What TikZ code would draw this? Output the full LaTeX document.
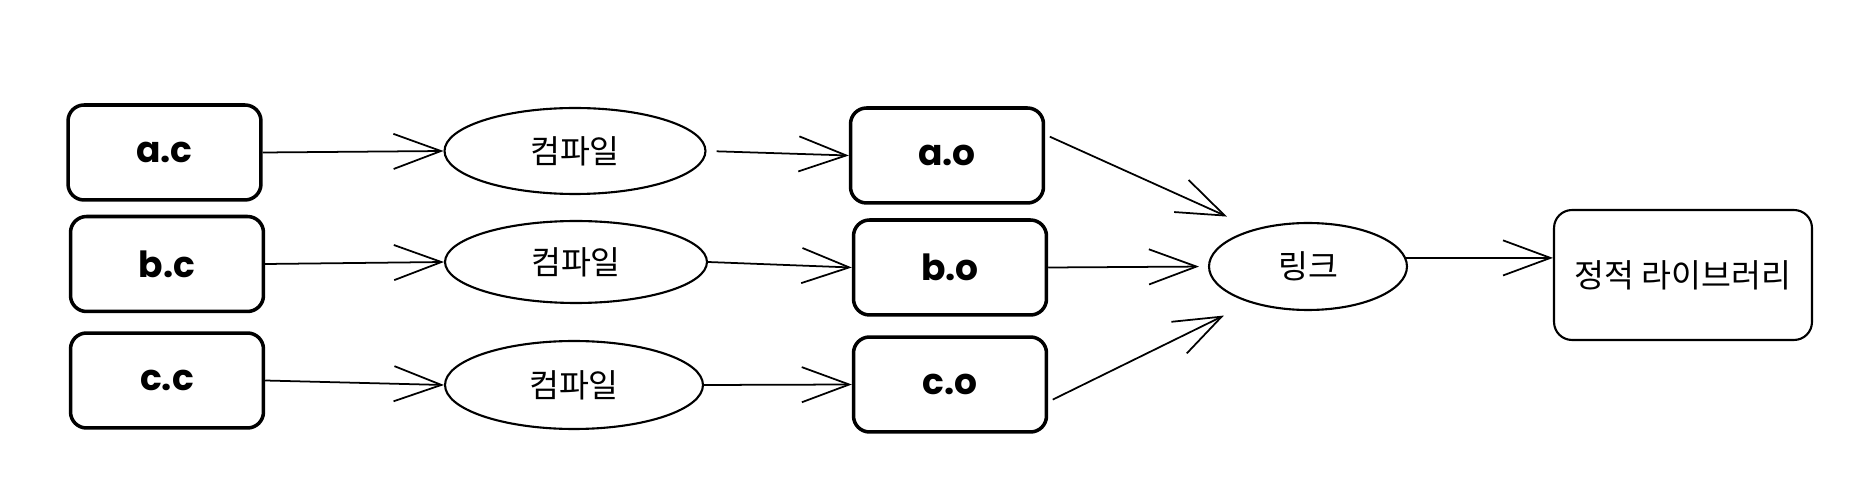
\documentclass[tikz,border=0pt]{standalone}
\usepackage{fontspec}
\setmainfont{Noto Sans CJK KR}
\newfontfamily\namefont{Poppins}
\usetikzlibrary{arrows.meta,shapes.geometric}

\begin{document}
\begin{tikzpicture}[x=0.02cm,y=-0.02cm,
    srcbox/.style={draw, line width=2pt, rounded corners=0.32cm, minimum width=3.86cm, minimum height=1.9cm, font=\namefont\bfseries\fontsize{20.5}{24}\selectfont},
    stepoval/.style={draw, ellipse, line width=1.2pt, inner sep=0pt, font=\fontsize{18.5}{22}\selectfont},
    libbox/.style={draw, line width=1.2pt, rounded corners=0.36cm, minimum width=5.16cm, minimum height=2.6cm, font=\fontsize{18.5}{22}\selectfont},
    flow/.style={-{Straight Barb[length=27pt,width=20pt]}, line width=1pt}]
        \useasboundingbox (0,0) rectangle (1860,496);

        \node[srcbox] (ac) at (164.5,152.5) {a.c};
        \node[srcbox] (bc) at (167,264) {b.c};
        \node[srcbox] (cc) at (167,380.5) {c.c};

        \node[stepoval, minimum width=5.22cm, minimum height=1.72cm] (comp1) at (575,151) {컴파일};
        \node[stepoval, minimum width=5.24cm, minimum height=1.64cm] (comp2) at (576,262) {컴파일};
        \node[stepoval, minimum width=5.16cm, minimum height=1.76cm] (comp3) at (574,385) {컴파일};

        \node[srcbox] (ao) at (947,155.5) {a.o};
        \node[srcbox] (bo) at (950,267.5) {b.o};
        \node[srcbox] (co) at (950,384.5) {c.o};

        \node[stepoval, minimum width=3.96cm, minimum height=1.74cm] (link) at (1308,266.5) {링크};
        \node[libbox] (lib) at (1683,275) {정적 라이브러리};

        \draw[flow] (ac.east) -- (comp1.west);
        \draw[flow, shorten <=0.2cm] (comp1.east) -- (ao.west);
        \draw[flow] (bc.east) -- (comp2.west);
        \draw[flow] (comp2.east) -- (bo.west);
        \draw[flow] (cc.east) -- (comp3.west);
        \draw[flow] (comp3.east) -- (co.west);

        \draw[flow, shorten <=0.1cm, shorten >=0.6cm] (ao.12) -- (link.145);
        \draw[flow, shorten >=0.18cm] (bo.east) -- (link.west);
        \draw[flow, shorten <=0.1cm, shorten >=0.58cm] (co.-10) -- (link.-148.5);
        \draw[flow] (link.5) -- (link.5 -| lib.west);

    \end{tikzpicture}
\end{document}
